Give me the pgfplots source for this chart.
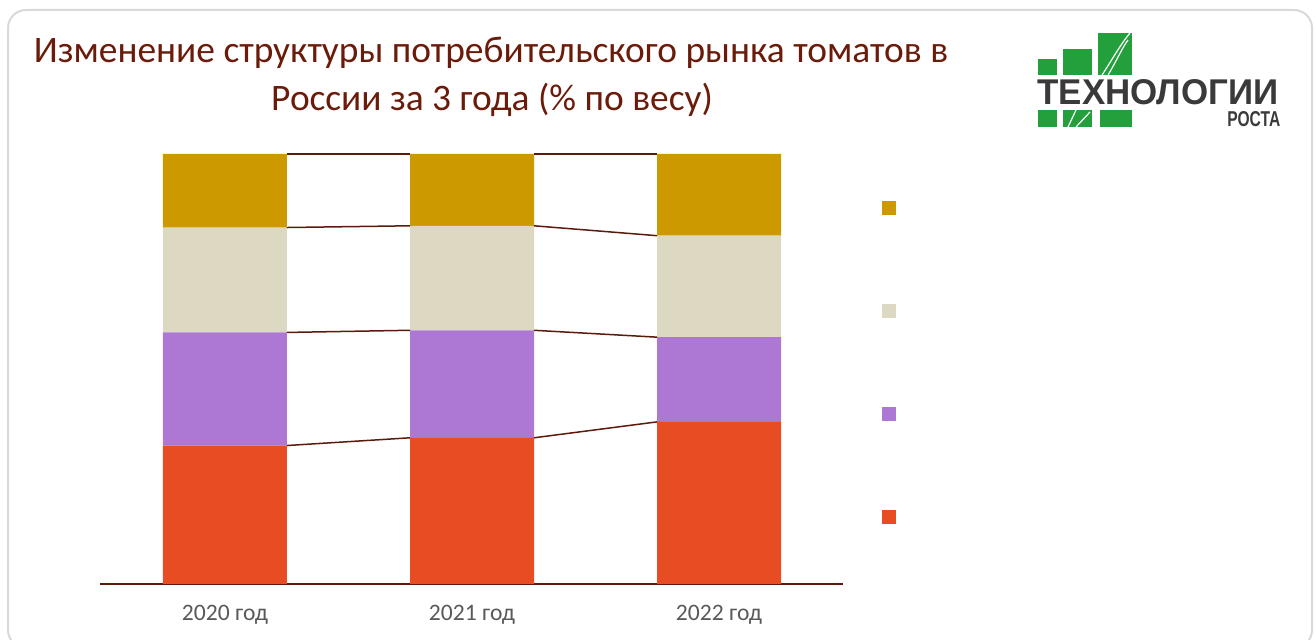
\documentclass[border=0pt]{standalone}
\usepackage{fontspec}
\setmainfont{Carlito}
\newfontfamily\logofont{Liberation Sans}
\usepackage{pgfplots}
\pgfplotsset{compat=1.18}
\definecolor{titlebrown}{HTML}{6A1B0A}
\definecolor{linebrown}{HTML}{5C1A0A}
\definecolor{cred}{HTML}{E84C22}
\definecolor{cpurple}{HTML}{AC78D4}
\definecolor{cbeige}{HTML}{DDD8C2}
\definecolor{cgold}{HTML}{CC9900}
\definecolor{logogreen}{HTML}{23A03C}
\definecolor{logogray}{HTML}{3A3A3A}
\definecolor{framegray}{HTML}{D9D9D9}
\definecolor{tickgray}{HTML}{595959}
\pgfplotsset{sqleg/.style={legend image code/.code={\fill[##1] (0pt,-3.5pt) rectangle (7pt,3.5pt);}}}

\begin{document}
\begin{tikzpicture}[x=0.5pt,y=0.5pt]
% canvas in pixels of the reference, y measured from the bottom
\useasboundingbox (0,0) rectangle (1316,640);
\draw[framegray, line width=1pt, rounded corners=9pt] (8,-8) rectangle (1312,630);

% title
\node[anchor=base, text=titlebrown, font=\fontsize{18.7}{24}\selectfont]
  at (491,577) {Изменение структуры потребительского рынка томатов в};
\node[anchor=base, text=titlebrown, font=\fontsize{18.7}{24}\selectfont]
  at (492,529) {России за 3 года (\% по весу)};

% logo
\fill[logogreen] (1038,565) rectangle (1057,581);
\fill[logogreen] (1063,565) rectangle (1092,591);
\fill[logogreen] (1098,565) rectangle (1132,607);
\fill[logogreen] (1038,513) rectangle (1057,530);
\fill[logogreen] (1063,513) rectangle (1092,530);
\fill[logogreen] (1100,513) rectangle (1132,530);
\draw[white, line width=0.6pt] (1102,565) .. controls (1112,580) and (1120,595) .. (1130,607);
\draw[white, line width=0.6pt] (1108,565) .. controls (1116,578) and (1122,592) .. (1128,600);
\draw[white, line width=0.6pt] (1068,513) -- (1076,530);
\draw[white, line width=0.6pt] (1076,513) -- (1090,528);
\node[anchor=base west, inner sep=0pt, text=logogray] at (1037,535)
  {\resizebox{120.5pt}{12.5pt}{\logofont\bfseries ТЕХНОЛОГИИ}};
\node[anchor=base west, inner sep=0pt, text=logogray] at (1227,513)
  {\resizebox{26.5pt}{7.5pt}{\logofont\bfseries РОСТА}};

\begin{axis}[
    at={(50pt,28pt)}, anchor=south west,
    scale only axis,
    width=371.5pt, height=215pt,
    ybar stacked,
    bar width=62pt,
    xmin=-0.506, xmax=2.502,
    ymin=0, ymax=100,
    axis y line=none,
    axis x line*=bottom,
    x axis line style={linebrown, line width=1pt, -},
    xtick={0,1,2},
    xticklabels={2020 год,2021 год,2022 год},
    major tick length=0pt,
    xticklabel style={text=tickgray, font=\fontsize{11.8}{14}\selectfont, anchor=base, yshift=-18.5pt},
    ytick=\empty,
    clip=false,
    reverse legend,
    legend style={at={(1.0525,0.8907)}, anchor=north west, draw=none, fill=none,
        inner sep=0pt, outer sep=0pt, row sep=44.5pt, nodes={inner sep=0pt}},
]
\addplot[fill=cred, draw=none, sqleg] coordinates {(0,32.2) (1,34.0) (2,37.7)};
\addplot[fill=cpurple, draw=none, sqleg] coordinates {(0,26.3) (1,25.0) (2,19.7)};
\addplot[fill=cbeige, draw=none, sqleg] coordinates {(0,24.4) (1,24.3) (2,23.6)};
\addplot[fill=cgold, draw=none, sqleg] coordinates {(0,17.1) (1,16.7) (2,19.0)};
\legend{\hphantom{x},\hphantom{x},\hphantom{x},\hphantom{x}}
\end{axis}

% series lines between the bars
\begin{axis}[
    at={(50pt,28pt)}, anchor=south west,
    scale only axis,
    width=371.5pt, height=215pt,
    xmin=-0.506, xmax=2.502,
    ymin=0, ymax=100,
    axis lines=none,
    clip=false,
    unbounded coords=jump,
]
\addplot[linebrown, line width=0.75pt, no marks] coordinates {(0.251,32.2) (0.749,34.0) (1,nan) (1.251,34.0) (1.749,37.7)};
\addplot[linebrown, line width=0.75pt, no marks] coordinates {(0.251,58.5) (0.749,59.0) (1,nan) (1.251,59.0) (1.749,57.4)};
\addplot[linebrown, line width=0.75pt, no marks] coordinates {(0.251,82.9) (0.749,83.3) (1,nan) (1.251,83.3) (1.749,81.0)};
\addplot[linebrown, line width=0.75pt, no marks] coordinates {(0.251,100) (0.749,100) (1,nan) (1.251,100) (1.749,100)};
\end{axis}
\end{tikzpicture}
\end{document}
